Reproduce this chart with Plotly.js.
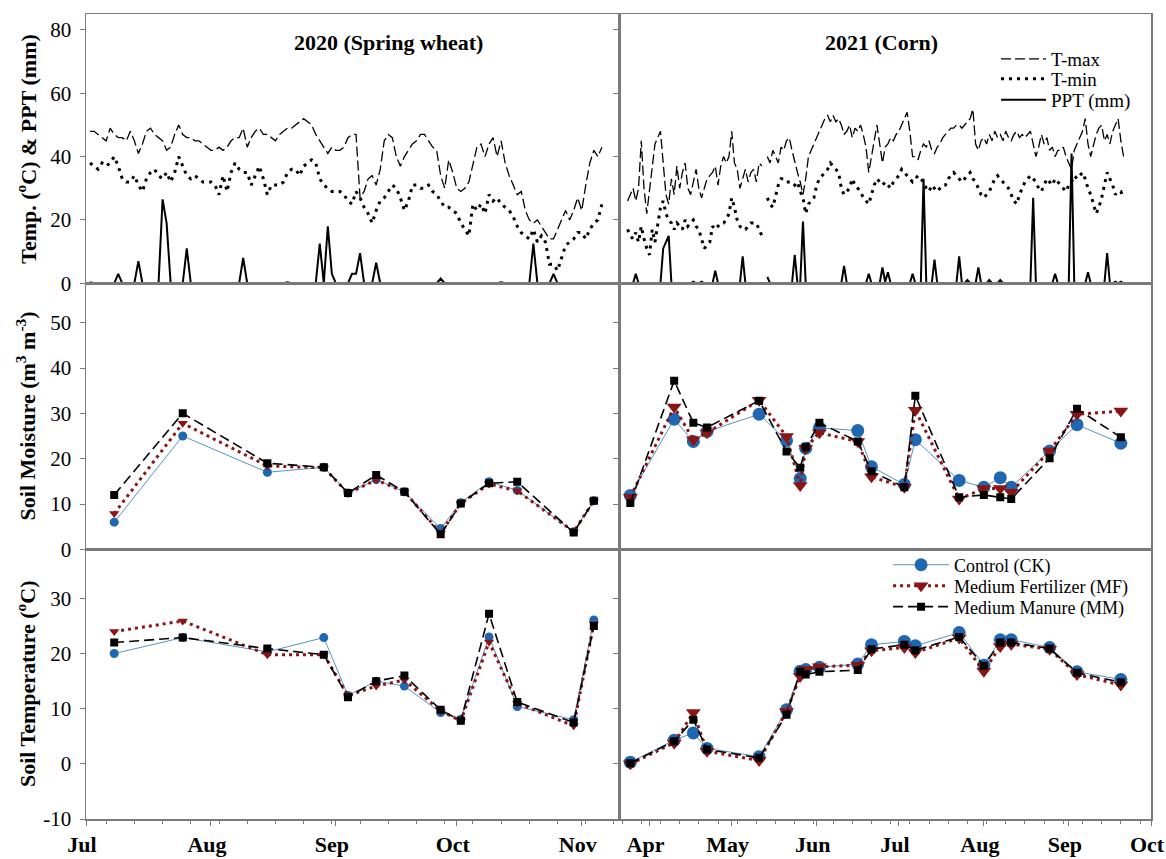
<!DOCTYPE html>
<html>
<head>
<meta charset="utf-8">
<script src="https://cdn.plot.ly/plotly-3.0.1.min.js"></script>
<style>html,body{margin:0;padding:0;background:#fff;}#chart{width:1166px;height:859px;}</style>
</head>
<body>
<div id="chart"></div>
<script>
// ---------------- DATA ----------------
// 2020 daily weather, starting 2020-07-02
const weatherStart2020 = '2020-07-02';
const tmax2020 = [48,48,47,46,45,49,47,46,46,45,
 48,45,41,44,48,49,47,46,45,42,
 43,47,50,47,46,46,45,45,44,43,
 42,42,43,42,43,45,46,46,49,43,
 46,48,49,47,47,46,45,47,48,49,
 49,50,51,52,51,50,47,45,43,41,
 43,42,42,43,46,47,47,27,29,33,
 34,31,36,45,47,46,40,37,40,42,
 44,45,47,47,45,43,42,34,30,39,
 35,30,29,30,32,38,43,44,40,44,
 46,40,45,38,34,31,28,29,23,20,
 19,20,18,16,14,14,17,20,23,20,
 23,27,23,31,38,42,40,43];
const tmin2020 = [38,37,36,38,37,38,40,37,33,32,
 32,34,31,29,33,35,36,34,33,35,
 32,35,40,37,34,33,34,33,32,32,
 32,31,28,34,29,35,38,36,35,35,
 31,34,37,33,28,31,31,31,32,35,
 36,36,34,37,38,39,38,33,31,30,
 29,29,29,28,26,25,29,27,24,22,
 19,23,26,27,29,31,30,27,23,26,
 31,31,30,30,31,29,28,26,24,24,
 23,22,19,17,15,25,23,25,22,28,
 26,27,25,24,23,21,18,16,15,14,
 17,13,15,13,6,6,4,8,12,13,
 14,16,16,14,17,19,20,25];
const ppt2020 = [0.3,0,0,0,0,0,0,3,0,0,
 0,0,7,0,0,0,0,0,26.5,19,
 0,0,0,0,11,0,0,0,0,0,
 0,0,0,0,0,0,0,0,8,0,
 0,0,0,0,0,0,0,0,0,0.3,
 0,0,0,0,0,0,0,12.5,0,18,
 3,0,0,0,0,3,3,9.5,0,0,
 0,6.5,0,0,0,0,0,0,0,0,
 0,0,0,0,0,0,0,1.5,0,0,
 0,0,0,0,0,0,0,0,0,0,
 0,0,0.3,0,0,0,0,0,0,0,
 12.5,0,0,0,0,3,0,0,0,0,
 0,0,0,0,0,0,0,0];

// 2021 daily weather, starting 2021-03-24
const weatherStart2021 = '2021-03-24';
const tmax2021 = [26,28,30,26,30,45,30,22,30,38,
 44,46,48,38,28,25,33,28,37,30,
 35,38,30,28,32,36,30,27,30,33,
 34,35,37,31,37,40,38,40,48,38,
 36,30,33,36,32,35,36,32,38,37,
 null,40,38,42,40,38,43,42,45,46,
 42,38,35,32,28,33,40,42,44,46,
 48,50,52,53,51,53,51,52,50,47,
 48,50,46,49,48,50,47,43,35,40,
 45,50,44,38,43,44,46,45,47,48,
 50,52,54,48,40,40,39,42,44,43,
 45,42,41,43,44,46,47,48,49,49,
 50,50,49,50,51,52,55,44,42,45,
 46,44,47,45,48,46,47,45,48,46,
 45,47,48,46,47,46,47,48,44,40,
 43,47,44,46,42,43,40,42,42,43,
 40,38,36,42,44,46,48,52,44,40,
 44,47,49,50,45,47,44,48,50,52,
 45,40];
const tmin2021 = [17,15,14,16,13,18,14,11,9,17,
 13,19,24,26,22,20,19,17,19,18,
 17,20,18,19,20,18,17,14,11,12,
 13,18,17,18,19,19,20,22,27,24,
 20,18,17,17,18,19,19,19,17,15,
 null,27,25,24,28,31,33,33,32,32,
 32,31,32,29,27,22,25,26,27,31,
 33,34,35,36,38,37,36,35,30,28,
 29,30,33,31,30,29,27,26,25,28,
 31,33,32,31,32,31,30,32,33,34,
 36,35,34,33,32,33,34,33,32,30,
 29,31,30,29,30,31,31,33,34,35,
 34,33,32,33,34,35,33,32,30,28,
 27,28,29,31,33,34,33,32,31,30,
 28,26,25,28,30,32,33,34,33,32,
 30,29,31,33,32,31,33,32,31,30,
 29,31,32,34,33,34,35,33,30,28,
 25,22,24,27,31,35,33,31,28,29,
 29,27];
const ppt2021 = [0,0,0,3,0,0,0,0,0,0,
 0,0,0,11,13,15,0,0,0,0,
 0,0,0,0,0.5,0,0,0.5,0,0,
 0,0,4,0,0,0,0,0,0,0,
 0,0,8.5,0,0,0,0,0,0,0,
 null,2,0,0,0,0,0,0,0,0,
 0,9,0,0,19.5,0,0,0,0,0,
 0,0,0,null,null,null,null,0,0,5.5,
 0,0,0,0,0,0,0,0,3,0,
 0,0,0,5,0.5,3.5,0,0,0,0,
 0,0,0,0,3,0,0,0,33,0,
 0,0,7.5,0,0,0,0,0,0,0,
 0,8.5,0,0,1,0,0,0,5,0,
 0,0,1,0,0,0,1,0,0,0,
 0,0,0,0,0,0,0,0,27,0,
 0,0,0,0,0,0,3,0,0,0,
 0,0,41,0,0,0,0,0,3.5,0,
 0,0,0,0,0,9.5,0,0,0.5,0,
 0.5,0];

// Soil sampling, 2020
const soilDates2020 = ['2020-07-08','2020-07-25','2020-08-15','2020-08-29','2020-09-04','2020-09-11','2020-09-18','2020-09-27','2020-10-02','2020-10-09','2020-10-16','2020-10-30','2020-11-04'];
const moistCK2020 = [6.0,25.0,17.0,18.1,12.4,15.4,12.7,4.6,10.3,14.9,13.0,3.9,10.7];
const moistMF2020 = [7.9,27.8,18.4,18.0,12.4,15.3,12.7,3.6,10.1,14.4,12.9,3.9,10.7];
const moistMM2020 = [12.0,30.0,19.0,18.1,12.4,16.4,12.7,3.3,10.1,14.6,14.9,3.7,10.7];
const tempCK2020 = [20.0,22.9,20.3,22.9,12.4,15.0,14.1,9.3,8.1,23.0,10.4,8.0,26.1];
const tempMF2020 = [24.0,25.9,19.8,19.8,12.4,14.1,15.2,9.6,7.8,22.1,11.0,6.9,25.4];
const tempMM2020 = [22.0,22.9,20.9,19.8,12.1,15.0,16.0,9.8,7.8,27.2,11.2,7.5,25.0];

// Soil sampling, 2021
const soilDates2021 = ['2021-03-25','2021-04-10','2021-04-17','2021-04-22','2021-05-11','2021-05-21','2021-05-26','2021-05-28','2021-06-02','2021-06-16','2021-06-21','2021-07-03','2021-07-07','2021-07-23','2021-08-01','2021-08-07','2021-08-11','2021-08-25','2021-09-04','2021-09-20'];
const moistCK2021 = [11.9,28.7,23.8,26.0,29.8,24.0,15.6,22.3,26.8,26.2,18.2,14.3,24.2,15.2,13.7,15.8,13.7,21.7,27.5,23.4];
const moistMF2021 = [11.5,31.4,24.2,25.7,32.9,24.9,14.1,22.3,25.7,23.8,16.0,13.7,30.7,11.1,13.4,13.4,12.6,21.7,29.8,30.5];
const moistMM2021 = [10.2,37.2,27.9,26.9,32.8,21.6,18.0,22.5,27.9,23.8,17.2,13.7,33.9,11.5,12.0,11.5,11.1,20.1,31.0,24.7];
const tempCK2021 = [0.3,4.3,5.6,2.8,1.3,9.8,16.8,17.1,17.5,18.1,21.6,22.2,21.4,23.8,17.9,22.5,22.5,21.1,16.7,15.3];
const tempMF2021 = [0.0,3.8,9.3,2.3,0.6,9.5,15.9,17.1,17.6,17.9,20.5,21.1,20.2,22.8,16.8,21.3,21.7,20.8,16.2,14.3];
const tempMM2021 = [0.1,4.1,8.0,2.6,1.1,8.9,16.7,16.2,16.7,17.0,20.8,21.6,20.6,23.0,17.8,22.0,22.0,20.9,16.5,14.8];

const panelTitles = ['2020 (Spring wheat)', '2021 (Corn)'];
const yTitles = ['Temp. (<sup>o</sup>C) & PPT (mm)', 'Soil Moisture (m<sup>3</sup> m<sup>-3</sup>)', 'Soil Temperature (<sup>o</sup>C)'];
const weatherNames = ['T-max', 'T-min', 'PPT (mm)'];
const treatmentNames = ['Control (CK)', 'Medium Fertilizer (MF)', 'Medium Manure (MM)'];

// ---------------- HELPERS ----------------
function dailyDates(start, n) {
  const t0 = Date.parse(start + 'T00:00:00Z');
  const out = [];
  for (let i = 0; i < n; i++) out.push(new Date(t0 + i * 86400000).toISOString().slice(0, 10));
  return out;
}
const FONT = 'Liberation Serif';
const GRAY = '#7a7a7a';
const CK_LINE = '#5a93c4', CK_MARK = '#1f67b0';
const MF_COL = '#8b1414';
const MM_COL = '#000000';

const d2020 = dailyDates(weatherStart2020, tmax2020.length);
const d2021 = dailyDates(weatherStart2021, tmax2021.length);

function weatherTraces(x, tmax, tmin, ppt, xa, ya, legend) {
  return [
    {x: x, y: tmax, xaxis: xa, yaxis: ya, type: 'scatter', mode: 'lines', name: weatherNames[0],
     line: {color: '#000', width: 1.3, dash: '10px,4px'}, showlegend: legend, legend: 'legend'},
    {x: x, y: tmin, xaxis: xa, yaxis: ya, type: 'scatter', mode: 'lines', name: weatherNames[1],
     line: {color: '#000', width: 3, dash: '3px,5px'}, showlegend: legend, legend: 'legend2'},
    {x: x, y: ppt, xaxis: xa, yaxis: ya, type: 'scatter', mode: 'lines', name: weatherNames[2],
     line: {color: '#000', width: 2}, showlegend: legend, legend: 'legend3'}
  ];
}
function soilTraces(x, ck, mf, mm, xa, ya, legend, big) {
  return [
    {x: x, y: ck, xaxis: xa, yaxis: ya, type: 'scatter', mode: 'lines+markers', name: treatmentNames[0],
     line: {color: CK_LINE, width: 1}, marker: {symbol: 'circle', size: big ? 13 : 9, color: CK_MARK},
     showlegend: legend, legend: 'legend4'},
    {x: x, y: mf, xaxis: xa, yaxis: ya, type: 'scatter', mode: 'lines+markers', name: treatmentNames[1],
     line: {color: MF_COL, width: 3, dash: '3px,4px'}, marker: {symbol: 'triangle-down', size: big ? 13 : 9, color: MF_COL},
     showlegend: legend, legend: 'legend5'},
    {x: x, y: mm, xaxis: xa, yaxis: ya, type: 'scatter', mode: 'lines+markers', name: treatmentNames[2],
     line: {color: MM_COL, width: 1.6, dash: '10px,5px'}, marker: {symbol: 'square', size: 8, color: MM_COL},
     showlegend: legend, legend: 'legend6'}
  ];
}

const traces = [].concat(
  weatherTraces(d2020, tmax2020, tmin2020, ppt2020, 'x', 'y', false),
  weatherTraces(d2021, tmax2021, tmin2021, ppt2021, 'x2', 'y2', true),
  soilTraces(soilDates2020, moistCK2020, moistMF2020, moistMM2020, 'x3', 'y3', false, false),
  soilTraces(soilDates2021, moistCK2021, moistMF2021, moistMM2021, 'x4', 'y4', false, true),
  soilTraces(soilDates2020, tempCK2020, tempMF2020, tempMM2020, 'x5', 'y5', false, false),
  soilTraces(soilDates2021, tempCK2021, tempMF2021, tempMM2021, 'x6', 'y6', true, true)
);

// ---------------- LAYOUT ----------------
const colL = [0, 0.5008], colR = [0.5008, 1];
const rowT = [0.6655, 1], rowM = [0.3350, 0.6655], rowB = [0, 0.3350];
const range2020 = ['2020-07-01', '2020-11-10 08:00'];
const range2021 = ['2021-03-21', '2021-10-01'];

function frame(extra) {
  return Object.assign({showline: true, mirror: true, linecolor: GRAY, linewidth: 1.5,
    showgrid: false, zeroline: false, fixedrange: true}, extra);
}
function xTop(domain, range, anchor) {
  return frame({domain: domain, range: range, type: 'date', anchor: anchor, ticks: '', showticklabels: false});
}
function xBottom(domain, range, anchor, tick0, minor0) {
  return frame({domain: domain, range: range, type: 'date', anchor: anchor,
    ticks: 'outside', ticklen: 5, tickcolor: GRAY, tickwidth: 1,
    dtick: 'M1', tick0: tick0, tickformat: '%b', ticklabelstandoff: 0, ticklabelshift: -4,
    tickfont: {family: FONT, size: 22, color: '#000', weight: 'bold'},
    minor: {dtick: 7 * 86400000, tick0: minor0, ticks: 'outside', ticklen: 3, tickcolor: GRAY, tickwidth: 1}});
}
function yAxis(domain, range, anchor, tickvals, labels) {
  return frame({domain: domain, range: range, anchor: anchor, ticks: 'outside', ticklen: 5,
    tickcolor: GRAY, tickwidth: 1, tickvals: tickvals, ticktext: tickvals.map(String),
    ticklabelstandoff: 4,
    tickfont: {family: FONT, size: 21, color: '#000'}, showticklabels: labels});
}
const ticksTop = [0, 20, 40, 60, 80];
const ticksMid = [0, 10, 20, 30, 40, 50];
const ticksBot = [-10, 0, 10, 20, 30];

function ann(text, x, y, angle) {
  const a = {text: '<b>' + text + '</b>', xref: 'paper', yref: 'paper', x: x, y: y,
    xanchor: 'center', yanchor: 'middle', showarrow: false, font: {family: FONT, size: 22, color: '#000'}};
  if (angle) a.textangle = angle;
  return a;
}
const annotations = [
  ann(panelTitles[0], 0.2836, 0.9643),
  ann(panelTitles[1], 0.7465, 0.9643),
  ann(yTitles[0], -0.0563, 0.8327, -90),
  ann(yTitles[1], -0.0563, 0.5002, -90),
  ann(yTitles[2], -0.0563, 0.1677, -90)
];

function leg(x, y, size, w) {
  return {x: x, y: y, xanchor: 'left', yanchor: 'middle', bgcolor: 'rgba(0,0,0,0)',
    font: {family: FONT, size: size, color: '#000'}, itemwidth: w, borderwidth: 0};
}

const layout = {
  width: 1166, height: 859,
  margin: {l: 86, r: 15, t: 14, b: 40, pad: 0},
  paper_bgcolor: '#fff', plot_bgcolor: '#fff',
  font: {family: FONT, color: '#000'},
  xaxis: xTop(colL, range2020, 'y'),
  yaxis: yAxis(rowT, [0, 85.05], 'x', ticksTop, true),
  xaxis2: xTop(colR, range2021, 'y2'),
  yaxis2: yAxis(rowT, [0, 85.05], 'x2', ticksTop, false),
  xaxis3: xTop(colL, range2020, 'y3'),
  yaxis3: yAxis(rowM, [0, 58.7], 'x3', ticksMid, true),
  xaxis4: xTop(colR, range2021, 'y4'),
  yaxis4: yAxis(rowM, [0, 58.7], 'x4', ticksMid, false),
  xaxis5: xBottom(colL, range2020, 'y5', '2020-07-01', '2020-07-06'),
  yaxis5: yAxis(rowB, [-10, 38.9], 'x5', ticksBot, true),
  xaxis6: xBottom(colR, range2021, 'y6', '2021-04-01', '2021-03-22'),
  yaxis6: yAxis(rowB, [-10, 38.9], 'x6', ticksBot, false),
  legend: leg(0.8545, 0.9441, 19, 45),
  legend2: leg(0.8545, 0.9193, 19, 45),
  legend3: leg(0.8545, 0.8932, 19, 45),
  legend4: leg(0.7531, 0.3155, 18, 56),
  legend5: leg(0.7531, 0.2894, 18, 56),
  legend6: leg(0.7531, 0.2634, 18, 56),
  annotations: annotations,
  showlegend: true
};

Plotly.newPlot('chart', traces, layout, {displayModeBar: false, staticPlot: true});
</script>
</body>
</html>
